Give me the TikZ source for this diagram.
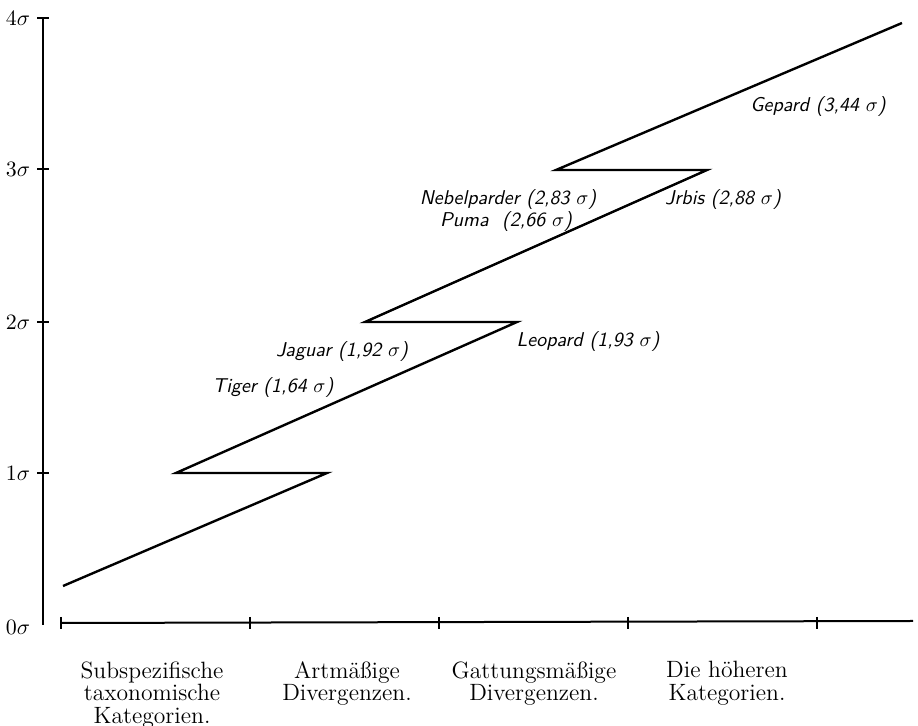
\documentclass[tikz,border=0pt]{standalone}
\usepackage{tikz}
\usetikzlibrary{calc}
\usetikzlibrary{positioning}

\tikzset{
  axis/.style={line width=1pt},
  zig/.style={line width=1.2pt, line join=miter},
  tag/.style={font=\sffamily\itshape\fontsize{10}{12}\selectfont},
  level/.style={font=\fontsize{10.5}{11.5}\selectfont},
  category/.style={align=center, anchor=north, inner sep=0pt, font=\fontsize{11.8}{11.3}\selectfont}
}

\begin{document}
\begin{tikzpicture}[x=0.5pt,y=-0.5pt]
            \useasboundingbox (0,0) rectangle (918,726);
            \fill[white] (0,0) rectangle (918,726);
            \coordinate (ytop) at (43,18);
            \coordinate (ybot) at (43,625);
            \coordinate (xleft) at (61,623);
            \coordinate (xright) at (913,621);
            \draw[axis] (ytop) -- (ybot);
            \draw[axis] (xleft) -- (xright);
            \foreach \y/\n in {18/4,169/3,322/2,473/1} {
                \draw[axis] (37,\y) -- (49,\y);
                \node[level] (s\n) at (18,\y) {$\n\sigma$};
            }
            \node[level] (s0) at (18,627) {$0\sigma$};
            \foreach \x in {61,250,439,628,817} {
                \draw[line width=0.8pt] (\x,617) -- (\x,629);
            }
            \coordinate (z0) at (63,586);
            \coordinate (z1) at (327,473);
            \coordinate (z2) at (176,473);
            \coordinate (z3) at (517,322);
            \coordinate (z4) at (365,322);
            \coordinate (z5) at (707,170);
            \coordinate (z6) at (556,170);
            \coordinate (z7) at (902,23);
            \draw[zig] (z0) -- (z1) -- (z2) -- (z3) -- (z4) -- (z5) -- (z6) -- (z7);
            \node[tag] (tiger) at (273,388) {Tiger (1,64 $\sigma$)};
            \node[tag] (jaguar) at (342,352) {Jaguar (1,92 $\sigma$)};
            \node[tag] (leopard) at (588,342) {Leopard (1,93 $\sigma$)};
            \node[tag] (nebel) at (508,200) {Nebelparder (2,83 $\sigma$)};
            \node[tag] (puma) at (506,222) {Puma \ (2,66 $\sigma$)};
            \node[tag] (irbis) at (723,200) {Jrbis (2,88 $\sigma$)};
            \node[tag] (gepard) at (818,107) {Gepard (3,44 $\sigma$)};
            \node[category] (subsp) at (152,661) {Subspezifische\\taxonomische\\Kategorien.};
            \node[category] (art) at (347,661) {Artmäßige\\Divergenzen.};
            \node[category] (gatt) at (534,661) {Gattungsmäßige\\Divergenzen.};
            \node[category] (hoeher) at (727,661) {Die höheren\\Kategorien.};
        \end{tikzpicture}
\end{document}
